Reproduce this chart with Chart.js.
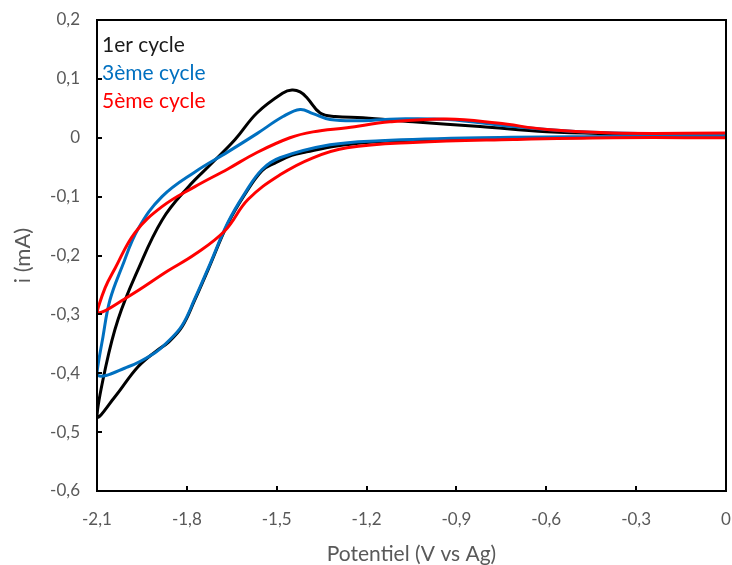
<!DOCTYPE html>
<html>
<head>
<meta charset="utf-8">
<script src="https://cdn.jsdelivr.net/npm/chart.js@4"></script>
<style>
  body { margin: 0; background: #fff; }
  #wrap { width: 732px; height: 565px; }
</style>
</head>
<body>
<div id="wrap"><canvas id="cv"></canvas></div>
<script>
// cycle 1 : aller (0 -> -2,1 V) puis retour
const cycle1E = [0, -0.3, -0.6, -0.9, -1.1, -1.2, -1.3, -1.4, -1.45, -1.506, -1.549, -1.606, -1.663, -1.729, -1.773, -1.816, -1.863, -1.896, -1.963, -2.04, -2.1,
  -2.073, -2.03, -1.963, -1.883, -1.796, -1.716, -1.639, -1.566, -1.479, -1.449, -1.422, -1.399, -1.355, -1.305, -1.212, -1.045, -0.821, -0.598, -0.377, 0];
const cycle1I = [0.003, 0.001, 0.0, -0.002, -0.005, -0.008, -0.014, -0.024, -0.030, -0.043, -0.056, -0.096, -0.146, -0.224, -0.275, -0.321, -0.348, -0.360, -0.389, -0.440, -0.474,
  -0.394, -0.309, -0.224, -0.140, -0.084, -0.043, -0.003, 0.042, 0.076, 0.081, 0.078, 0.068, 0.042, 0.036, 0.034, 0.027, 0.019, 0.010, 0.007, 0.005];

// cycle 3
const cycle3E = [0, -0.377, -0.821, -1.155, -1.322, -1.489, -1.549, -1.606, -1.663, -1.729, -1.773, -1.816, -1.863, -1.906, -1.996, -2.1,
  -2.08, -2.057, -2.017, -1.963, -1.883, -1.773, -1.663, -1.566, -1.479, -1.422, -1.379, -1.322, -1.212, -1.098, -0.931, -0.711, -0.487, -0.264, 0];
const cycle3I = [0.003, 0.002, 0.0, -0.005, -0.012, -0.034, -0.054, -0.094, -0.144, -0.222, -0.273, -0.319, -0.346, -0.365, -0.389, -0.402,
  -0.338, -0.276, -0.220, -0.155, -0.100, -0.058, -0.024, 0.007, 0.036, 0.048, 0.041, 0.031, 0.029, 0.032, 0.031, 0.019, 0.010, 0.007, 0.005];

// cycle 5
const cycle5E = [0, -0.377, -0.711, -1.045, -1.265, -1.379, -1.489, -1.596, -1.673, -1.773, -1.863, -1.996, -2.1,
  -2.073, -2.04, -1.973, -1.883, -1.773, -1.663, -1.566, -1.456, -1.379, -1.265, -1.122, -0.931, -0.764, -0.598, -0.377, 0];
const cycle5I = [0.0, 0.0, -0.003, -0.008, -0.017, -0.034, -0.063, -0.105, -0.158, -0.198, -0.226, -0.270, -0.297,
  -0.255, -0.222, -0.161, -0.117, -0.083, -0.053, -0.025, 0.0, 0.010, 0.017, 0.027, 0.032, 0.025, 0.014, 0.008, 0.008];

const seriesNames = ['1er cycle', '3ème cycle', '5ème cycle'];
const seriesColors = ['#000000', '#0070C0', '#FF0000'];

const xTicks = [-2.1, -1.8, -1.5, -1.2, -0.9, -0.6, -0.3, 0];
const yTicks = [-0.6, -0.5, -0.4, -0.3, -0.2, -0.1, 0, 0.1, 0.2];

function pts(E, I) {
  return E.map((e, k) => ({ x: e, y: I[k] }));
}

function fmt(v) {
  if (Math.abs(v) < 1e-9) return '0';
  return v.toFixed(1).replace('.', ',');
}

const txtColor = '#595959';
const fam = 'Lato, "Open Sans", sans-serif';

// cadre, graduations intérieures et légende dans la zone du tracé
const framePlugin = {
  id: 'frame',
  afterDatasetsDraw(chart) {
    const { ctx, chartArea: a } = chart;
    const xs = chart.scales.x, ys = chart.scales.y;
    ctx.save();
    ctx.strokeStyle = '#000';
    ctx.lineWidth = 2;
    ctx.strokeRect(a.left, a.top, a.right - a.left, a.bottom - a.top);
    ctx.beginPath();
    xTicks.forEach(v => {
      const px = Math.round(xs.getPixelForValue(v));
      ctx.moveTo(px, a.bottom);
      ctx.lineTo(px, a.bottom - 5);
    });
    yTicks.forEach(v => {
      const py = Math.round(ys.getPixelForValue(v));
      ctx.moveTo(a.left, py);
      ctx.lineTo(a.left + 5, py);
    });
    ctx.stroke();

    ctx.font = '21px ' + fam;
    ctx.textBaseline = 'alphabetic';
    ctx.textAlign = 'left';
    seriesNames.forEach((name, k) => {
      ctx.fillStyle = k === 0 ? '#1a1a1a' : seriesColors[k];
      ctx.fillText(name, a.left + 5, a.top + 32 + k * 28);
    });
    ctx.restore();
  }
};

new Chart(document.getElementById('cv'), {
  type: 'scatter',
  data: {
    datasets: [
      { label: seriesNames[0], data: pts(cycle1E, cycle1I), borderColor: seriesColors[0], order: 3 },
      { label: seriesNames[1], data: pts(cycle3E, cycle3I), borderColor: seriesColors[1], order: 2 },
      { label: seriesNames[2], data: pts(cycle5E, cycle5I), borderColor: seriesColors[2], order: 1 },
    ],
  },
  options: {
    responsive: true,
    maintainAspectRatio: false,
    animation: false,
    layout: { padding: { top: 20, right: 6, left: 0, bottom: 0 } },
    elements: {
      line: { borderWidth: 3, tension: 0.4, fill: false },
      point: { radius: 0, hoverRadius: 0 },
    },
    datasets: { scatter: { showLine: true } },
    plugins: {
      legend: { display: false },
      tooltip: { enabled: false },
    },
    scales: {
      x: {
        type: 'linear',
        min: -2.1,
        max: 0,
        afterBuildTicks: s => { s.ticks = xTicks.map(v => ({ value: v })); },
        afterFit: s => { s.height = 74; s.paddingLeft = 0; s.paddingRight = 0; },
        grid: { display: false, drawTicks: false },
        border: { display: false },
        ticks: {
          callback: v => fmt(v),
          autoSkip: false,
          maxRotation: 0,
          padding: 18,
          color: txtColor,
          font: { family: fam, size: 17 },
        },
        title: {
          display: true,
          text: 'Potentiel (V vs Ag)',
          color: txtColor,
          font: { family: fam, size: 21, lineHeight: 1 },
          padding: { top: 0, bottom: 0 },
        },
      },
      y: {
        type: 'linear',
        min: -0.6,
        max: 0.2,
        afterBuildTicks: s => { s.ticks = yTicks.map(v => ({ value: v })); },
        afterFit: s => { s.width = 97; s.paddingTop = 0; s.paddingBottom = 0; },
        grid: { display: false, drawTicks: false },
        border: { display: false },
        ticks: {
          callback: v => fmt(v),
          autoSkip: false,
          padding: 17,
          color: txtColor,
          font: { family: fam, size: 17 },
        },
        title: {
          display: true,
          text: 'i (mA)',
          color: txtColor,
          font: { family: fam, size: 22, lineHeight: 1.2 },
          padding: { top: 10, bottom: 0 },
        },
      },
    },
  },
  plugins: [framePlugin],
});
</script>
</body>
</html>
